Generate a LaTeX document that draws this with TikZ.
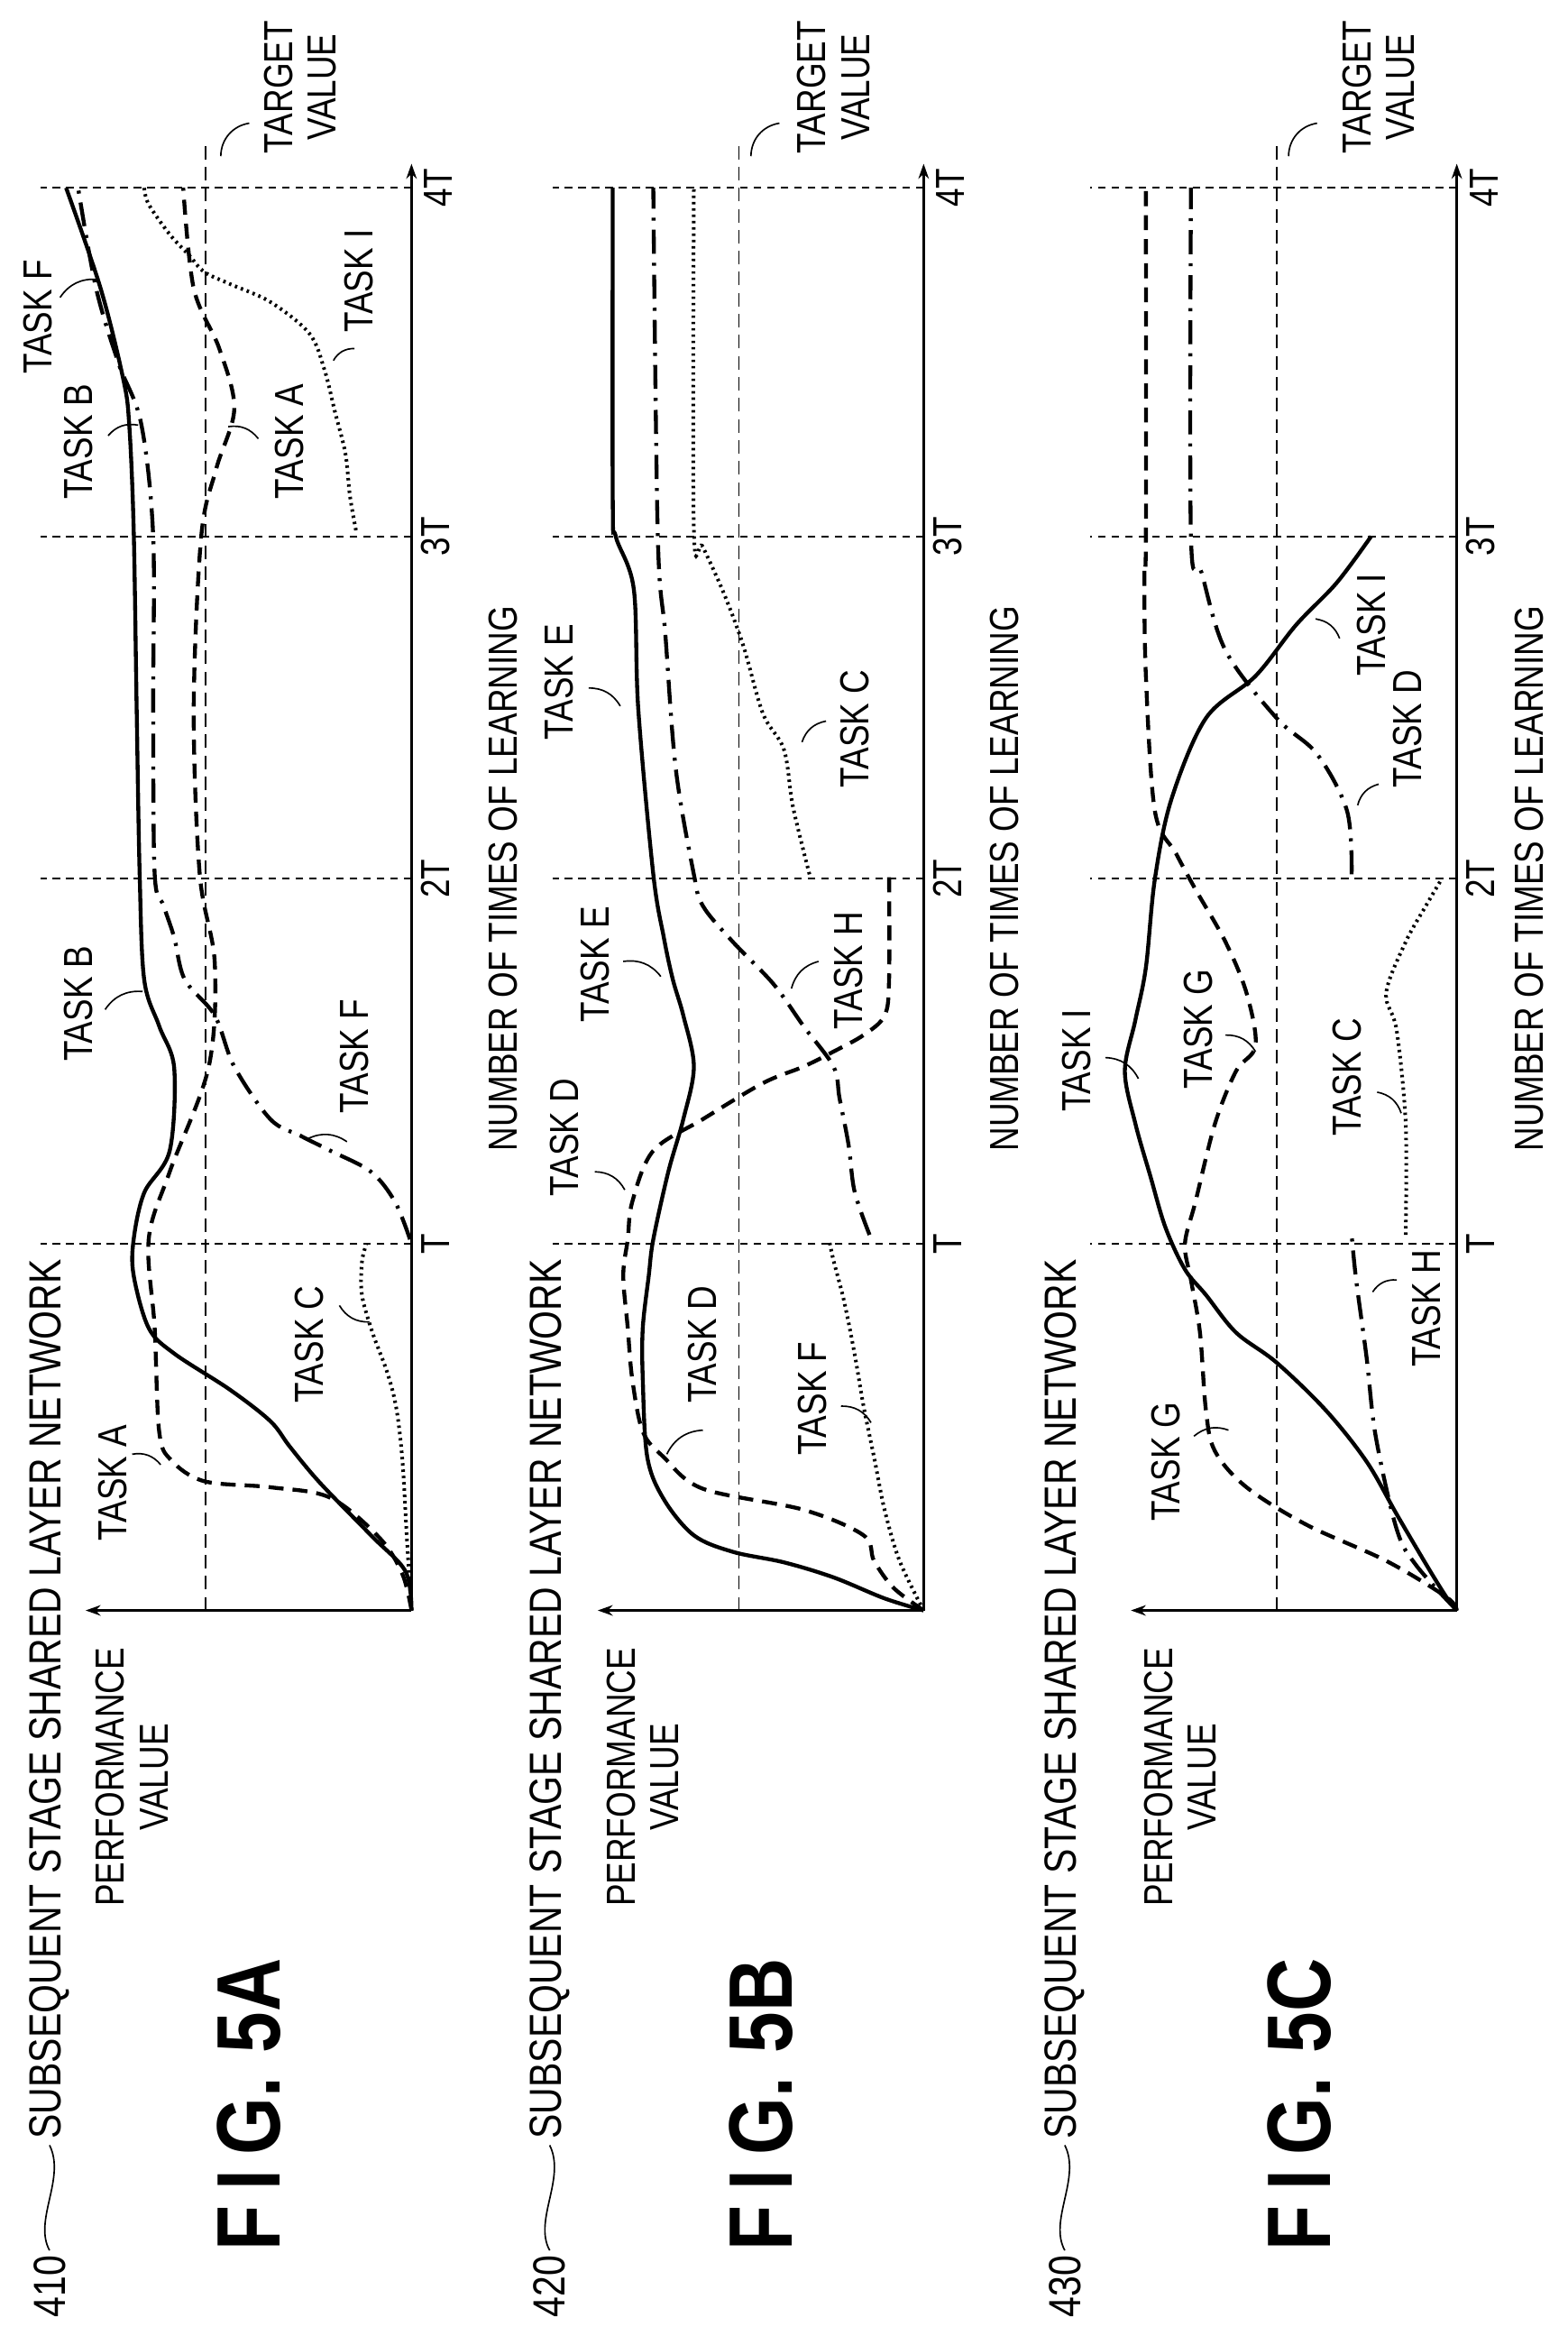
\documentclass[tikz,border=0pt]{standalone}
\usepackage{fontspec}
\usetikzlibrary{arrows.meta}
\newfontfamily\lfam[FakeStretch=0.82]{Liberation Sans}
\newcommand\lf{\lfam\fontsize{27}{29}\selectfont}
\newcommand\hf{\lfam\fontsize{30}{32}\selectfont}
\newcommand\ff{\lfam\bfseries\fontsize{60}{62}\selectfont}
\tikzset{
 lbl/.style={rotate=90,font=\lf,inner sep=0pt,align=center},
 hdr/.style={rotate=90,font=\hf,inner sep=0pt},
 figl/.style={rotate=90,font=\ff,inner sep=0pt},
 lead/.style={line width=1pt},
 gridl/.style={line width=1.2pt,dash pattern=on 5pt off 4pt},
 tgt/.style={line width=1pt,dash pattern=on 9pt off 5pt},
 axisl/.style={line width=1.5pt,-{Stealth[length=10pt,width=7pt]}},
 csolid/.style={line width=2.6pt},
 cdash/.style={line width=2.6pt,dash pattern=on 10pt off 6pt},
 cdot/.style={line width=2.4pt,dash pattern=on 1.6pt off 2.6pt},
 cdd/.style={line width=2.6pt,dash pattern=on 16pt off 6pt on 2pt off 6pt},
 crv/.style={smooth,tension=0.55}
}
\begin{document}
\begin{tikzpicture}[x=1pt,y=1pt]
\useasboundingbox (0,0) rectangle (1044,-1555);
% ================= labels (global coords: (px,-py))
% chart A
\node[hdr] (n410) at (33,-1522) {410};
\node[hdr,anchor=west] (hA) at (33,-1424) {SUBSEQUENT STAGE SHARED LAYER NETWORK};
\draw[lead] (33,-1498) .. controls (22,-1478) and (44,-1450) .. (33,-1428);
\node[lbl] (pA) at (88,-1183) {PERFORMANCE\\VALUE};
\node[figl] (fA) at (166,-1401) {F\hspace{10pt}I\hspace{10pt}G.\hspace{16pt}5A};
\node[lbl] (xA) at (335,-585) {NUMBER OF TIMES OF LEARNING};
\node[lbl] (tvA) at (200,-58) {TARGET\\VALUE};
% chart B
\node[hdr] (n420) at (366,-1522) {420};
\node[hdr,anchor=west] (hB) at (366,-1424) {SUBSEQUENT STAGE SHARED LAYER NETWORK};
\draw[lead] (366,-1498) .. controls (355,-1478) and (377,-1450) .. (366,-1428);
\node[lbl] (pB) at (428,-1183) {PERFORMANCE\\VALUE};
\node[figl] (fB) at (507,-1401) {F\hspace{10pt}I\hspace{10pt}G.\hspace{16pt}5B};
\node[lbl] (xB) at (669,-585) {NUMBER OF TIMES OF LEARNING};
\node[lbl] (tvB) at (555,-58) {TARGET\\VALUE};
% chart C
\node[hdr] (n430) at (709,-1522) {430};
\node[hdr,anchor=west] (hC) at (709,-1424) {SUBSEQUENT STAGE SHARED LAYER NETWORK};
\draw[lead] (709,-1498) .. controls (698,-1478) and (720,-1450) .. (709,-1428);
\node[lbl] (pC) at (786,-1183) {PERFORMANCE\\VALUE};
\node[figl] (fC) at (865,-1401) {F\hspace{10pt}I\hspace{10pt}G.\hspace{16pt}5C};
\node[lbl] (xC) at (1018,-585) {NUMBER OF TIMES OF LEARNING};
\node[lbl] (tvC) at (918,-58) {TARGET\\VALUE};

% task labels chart A
\node[lbl] (la1) at (75,-987) {TASK A};
\draw[lead] (88,-968) to[bend left=30] (107,-975);
\node[lbl] (la2) at (206,-895) {TASK C};
\draw[lead] (226,-869) to[bend right=30] (246,-880);
\node[lbl] (la3) at (52,-668) {TASK B};
\draw[lead] (70,-672) to[bend left=30] (95,-660);
\node[lbl] (la4) at (236,-703) {TASK F};
\draw[lead] (231,-760) to[bend right=30] (205,-758);
\node[lbl] (la5) at (52,-294) {TASK B};
\draw[lead] (72,-290) to[bend left=30] (92,-283);
\node[lbl] (la6) at (193,-294) {TASK A};
\draw[lead] (172,-292) to[bend right=30] (152,-284);
\node[lbl] (la7) at (25,-211) {TASK F};
\draw[lead] (40,-198) to[bend left=30] (65,-186);
\node[lbl] (la8) at (239,-187) {TASK I};
\draw[lead] (236,-232) to[bend right=30] (222,-240);
% task labels chart B
\node[lbl] (lb1) at (376,-757) {TASK D};
\draw[lead] (396,-780) to[bend left=30] (416,-792);
\node[lbl] (lb2) at (396,-642) {TASK E};
\draw[lead] (415,-640) to[bend left=30] (440,-650);
\node[lbl] (lb3) at (468,-895) {TASK D};
\draw[lead] (468,-952) to[bend right=30] (444,-968);
\node[lbl] (lb4) at (541,-931) {TASK F};
\draw[lead] (560,-936) to[bend left=30] (580,-947);
\node[lbl] (lb5) at (565,-646) {TASK H};
\draw[lead] (545,-640) to[bend right=30] (527,-658);
\node[lbl] (lb6) at (372,-454) {TASK E};
\draw[lead] (392,-458) to[bend left=30] (413,-470);
\node[lbl] (lb7) at (569,-485) {TASK C};
\draw[lead] (550,-480) to[bend right=30] (534,-494);
% task labels chart C
\node[lbl] (lc1) at (776,-973) {TASK G};
\draw[lead] (795,-956) to[bend left=30] (818,-952);
\node[lbl] (lc2) at (950,-871) {TASK H};
\draw[lead] (930,-852) to[bend right=30] (914,-860);
\node[lbl] (lc3) at (717,-706) {TASK I};
\draw[lead] (736,-704) to[bend left=30] (758,-718);
\node[lbl] (lc4) at (798,-685) {TASK G};
\draw[lead] (816,-689) to[bend left=30] (836,-700);
\node[lbl] (lc5) at (897,-717) {TASK C};
\draw[lead] (917,-727) to[bend left=30] (933,-741);
\node[lbl] (lc6) at (913,-416) {TASK I};
\draw[lead] (892,-425) to[bend right=30] (876,-412);
\node[lbl] (lc7) at (937,-485) {TASK D};
\draw[lead] (918,-522) to[bend right=30] (904,-536);

% target leaders
\draw[lead] (147,-104) to[bend left=40] (166,-82);
\draw[lead] (500,-104) to[bend left=40] (519,-82);
\draw[lead] (858,-104) to[bend left=40] (877,-82);

% ================= chart A
\begin{scope}[shift={(274,-1072)},rotate=90]
 \foreach \t in {244,487,715,947} \draw[gridl] (\t,0) -- (\t,247);
 \draw[tgt] (0,137) -- (978,137);
 \draw[axisl] (0,0) -- (0,217);
 \draw[axisl] (0,0) -- (963,0);
 \node[lbl] (tA1) at (244,-16) {T};
 \node[lbl] (tA2) at (487,-16) {2T};
 \node[lbl] (tA3) at (715,-16) {3T};
 \node[lbl] (tA4) at (947,-18) {4T};
 \draw[csolid] plot[crv] coordinates {(0,0)(26,4)(50,27)(85,61)(109,81)(126,94)(147,121)(171,158)(188,175)(223,185)(247,185)(278,178)(306,161)(361,158)(389,168)(420,178)(490,181)(600,183)(720,185)(790,188)(820,192)(880,207)(947,230)};
 \draw[cdash] plot[crv] coordinates {(0,0)(24,6)(48,21)(75,54)(82,94)(86,138)(100,160)(119,168)(188,171)(247,175)(292,161)(362,135)(431,131)(490,141)(600,145)(715,140)(760,130)(800,118)(840,128)(880,145)(947,152)};
 \draw[cdot] plot[crv] coordinates {(0,0)(47,3)(99,6)(134,10)(158,16)(185,26)(210,33)(232,33)(244,30)};
 \draw[cdd] plot[crv] coordinates {(247,1)(272,11)(292,27)(306,54)(316,74)(327,94)(362,118)(396,131)(420,151)(448,158)(469,165)(490,171)(600,172)(715,172)(790,180)(830,195)(880,210)(947,222)};
 \draw[cdot] plot[crv] coordinates {(719,37)(742,41)(770,44)(798,51)(826,58)(850,68)(871,94)(883,121)(891,138)(902,148)(916,161)(936,175)(947,178)};
\end{scope}

% ================= chart B
\begin{scope}[shift={(615,-1072)},rotate=90]
 \foreach \t in {244,487,715,947} \draw[gridl] (\t,0) -- (\t,247);
 \draw[tgt] (0,123) -- (978,123);
 \draw[axisl] (0,0) -- (0,217);
 \draw[axisl] (0,0) -- (963,0);
 \node[lbl] (tB1) at (244,-16) {T};
 \node[lbl] (tB2) at (487,-16) {2T};
 \node[lbl] (tB3) at (715,-16) {3T};
 \node[lbl] (tB4) at (947,-18) {4T};
 \draw[csolid] plot[crv] coordinates {(0,0)(8,26)(22,60)(32,93)(39,127)(50,153)(74,173)(102,184)(154,187)(188,187)(223,183)(247,180)(292,170)(327,160)(362,153)(396,160)(420,167)(448,173)(490,180)(600,190)(680,193)(715,205)(740,207)(947,207)};
 \draw[cdash] plot[crv] coordinates {(0,0)(15,20)(33,33)(50,40)(67,80)(81,147)(102,173)(119,187)(154,194)(188,197)(223,200)(247,197)(272,194)(306,180)(327,147)(351,107)(362,80)(372,60)(383,40)(396,26)(420,23)(490,23)};
 \draw[cdot] plot[crv] coordinates {(0,0)(33,16)(67,26)(102,33)(136,40)(171,46)(206,53)(233,60)(247,63)};
 \draw[cdd] plot[crv] coordinates {(250,36)(279,46)(310,50)(341,56)(362,60)(389,80)(417,100)(445,127)(469,147)(490,153)(560,165)(650,172)(715,177)(947,180)};
 \draw[cdot] plot[crv] coordinates {(490,76)(535,87)(573,93)(597,107)(642,120)(677,133)(708,147)(720,153)(947,153)};
\end{scope}

% ================= chart C
\begin{scope}[shift={(970,-1072)},rotate=90]
 \foreach \t in {244,487,715,947} \draw[gridl] (\t,0) -- (\t,244);
 \draw[tgt] (0,120) -- (978,120);
 \draw[axisl] (0,0) -- (0,217);
 \draw[axisl] (0,0) -- (963,0);
 \node[lbl] (tC1) at (244,-16) {T};
 \node[lbl] (tC2) at (487,-16) {2T};
 \node[lbl] (tC3) at (715,-16) {3T};
 \node[lbl] (tC4) at (947,-18) {4T};
 \draw[csolid] plot[crv] coordinates {(0,0)(9,7)(30,20)(64,40)(99,60)(133,87)(165,120)(185,147)(210,167)(227,181)(255,194)(289,204)(324,214)(359,221)(393,214)(428,207)(487,201)(540,190)(594,167)(622,134)(656,107)(684,80)(715,57)};
 \draw[cdash] plot[crv] coordinates {(0,0)(9,7)(33,47)(57,100)(82,140)(106,161)(133,167)(185,171)(220,177)(244,181)(272,174)(324,161)(359,147)(376,134)(411,140)(445,154)(480,174)(504,187)(532,201)(622,207)(691,208)(715,207)(947,207)};
 \draw[cdd] plot[crv] coordinates {(0,0)(30,27)(54,40)(116,54)(168,60)(220,67)(250,70)};
 \draw[cdot] plot[crv] coordinates {(250,34)(324,34)(386,40)(411,47)(445,34)(470,20)(487,10)};
 \draw[cdd] plot[crv] coordinates {(490,70)(532,73)(570,93)(594,120)(639,154)(691,170)(715,177)(947,177)};
\end{scope}
\end{tikzpicture}
\end{document}
